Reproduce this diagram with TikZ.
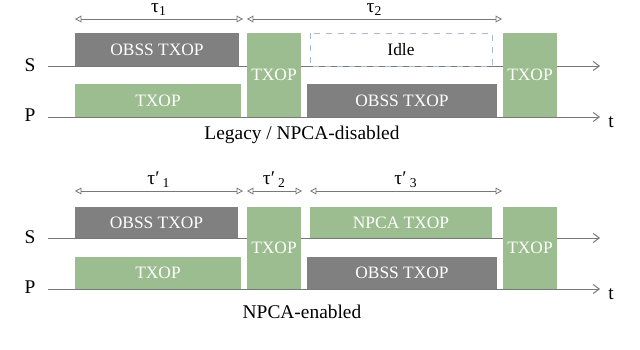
\documentclass[tikz,border=0pt]{standalone}
\usepackage{fontspec}
\setmainfont{Liberation Serif}
\usetikzlibrary{arrows.meta}
\definecolor{txopgreen}{RGB}{155,189,143}
\definecolor{obssgray}{RGB}{128,128,128}
\definecolor{idleblue}{RGB}{168,186,210}
\definecolor{axisgray}{RGB}{120,120,120}
\tikzset{
  slotlbl/.style={text=white,font=\fontsize{8.7}{10}\selectfont,inner sep=0pt},
  axisline/.style={axisgray,line width=.5pt,-{Straight Barb[length=3pt,width=4.5pt]}},
  span/.style={axisgray,line width=.4pt,{Triangle[open,length=3.2pt,width=3.4pt]}-{Triangle[open,length=3.2pt,width=3.4pt]}},
  rowlbl/.style={text=black,font=\fontsize{9.7}{11}\selectfont,inner sep=0pt},
}
\begin{document}
\begin{tikzpicture}[x=.5pt,y=-.5pt]
\useasboundingbox (0,0) rectangle (640,349);
% top: legacy
\node[rowlbl] (s1) at (30,65) {S};\node[rowlbl] (p1) at (30,115) {P};
\coordinate (sa1) at (48,66);\coordinate (sb1) at (600,66);
\coordinate (pa1) at (48,117);\coordinate (pb1) at (600,117);
\draw[axisline] (sa1)--(sb1);\draw[axisline] (pa1)--(pb1);
\node[rowlbl,anchor=west] (tt1) at (608,122) {t};
\fill[obssgray] (75,33) rectangle (239,66) node[midway,slotlbl] (obssS1) {OBSS TXOP};
\fill[txopgreen] (75,84) rectangle (241,117) node[midway,slotlbl] (txopP1) {TXOP};
\fill[txopgreen] (247,33) rectangle (301,117) node[midway,slotlbl] (txopA1) {TXOP};
\draw[idleblue,dashed,line width=.5pt] (310,33) rectangle (492,66) node[midway,slotlbl,text=black] (idle1) {Idle};
\fill[obssgray] (307,84) rectangle (497,117) node[midway,slotlbl] (obssP1) {OBSS TXOP};
\fill[txopgreen] (503,33) rectangle (557,117) node[midway,slotlbl] (txopB1) {TXOP};
\coordinate (u0) at (75,19);\coordinate (u1) at (243,19);\coordinate (u2) at (247,19);\coordinate (u3) at (502,19);
\draw[span] (u0)--(u1) node[midway,above=1.5pt,rowlbl] (tau1) {τ\textsubscript{1}};
\draw[span] (u2)--(u3) node[midway,above=1.5pt,rowlbl] (tau2) {τ\textsubscript{2}};
\node[rowlbl] (cap1) at (302,135) {Legacy / NPCA-disabled};
% bottom: npca
\begin{scope}[yshift=-86pt]
\node[rowlbl] (s2) at (30,65) {S};\node[rowlbl] (p2) at (30,115) {P};
\coordinate (sa2) at (48,66);\coordinate (sb2) at (600,66);
\coordinate (pa2) at (48,117);\coordinate (pb2) at (600,117);
\draw[axisline] (sa2)--(sb2);\draw[axisline] (pa2)--(pb2);
\node[rowlbl,anchor=west] (tt2) at (608,122) {t};
\fill[obssgray] (75,35) rectangle (238,66) node[midway,slotlbl] (obssS2) {OBSS TXOP};
\fill[txopgreen] (75,85) rectangle (241,117) node[midway,slotlbl] (txopP2) {TXOP};
\fill[txopgreen] (247,35) rectangle (301,117) node[midway,slotlbl] (txopA2) {TXOP};
\fill[txopgreen] (310,35) rectangle (492,66) node[midway,slotlbl] (npca2) {NPCA TXOP};
\fill[obssgray] (307,85) rectangle (497,117) node[midway,slotlbl] (obssP2) {OBSS TXOP};
\fill[txopgreen] (503,35) rectangle (557,117) node[midway,slotlbl] (txopB2) {TXOP};
\coordinate (v0) at (75,19);\coordinate (v1) at (243,19);\coordinate (v2) at (247,19);
\coordinate (v3) at (302,19);\coordinate (v4) at (310,19);\coordinate (v5) at (502,19);
\draw[span] (v0)--(v1) node[midway,above=1.5pt,rowlbl] (tau3) {τ′\,\textsubscript{1}};
\draw[span] (v2)--(v3) node[midway,above=1.5pt,rowlbl] (tau4) {τ′\,\textsubscript{2}};
\draw[span] (v4)--(v5) node[midway,above=1.5pt,rowlbl] (tau5) {τ′\,\textsubscript{3}};
\node[rowlbl] (cap2) at (302,140) {NPCA-enabled};
\end{scope}
\end{tikzpicture}
\end{document}
